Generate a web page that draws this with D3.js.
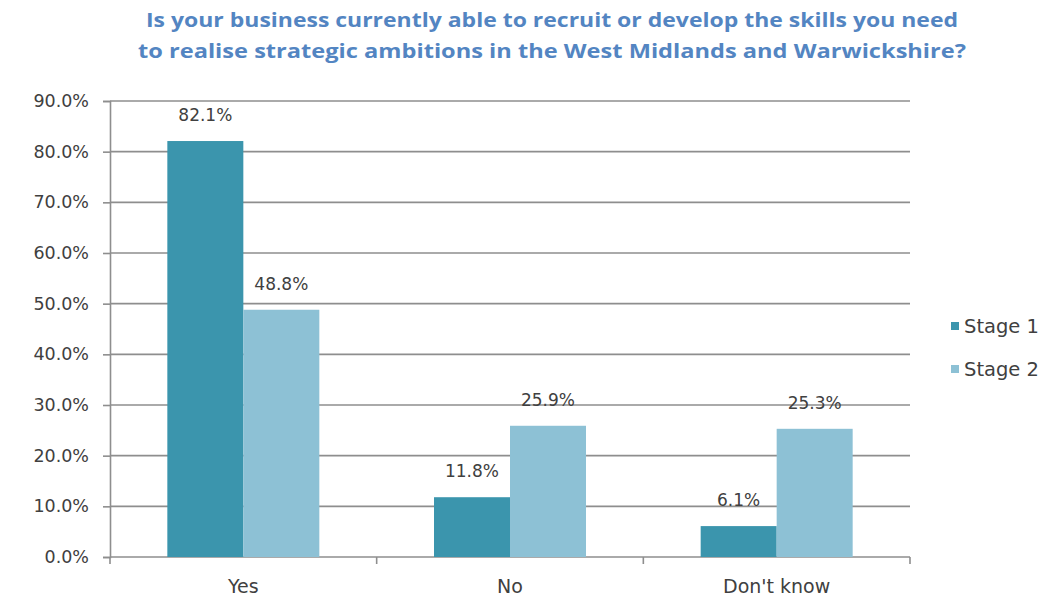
<!DOCTYPE html>
<html>
<head>
<meta charset="utf-8">
<script src="https://cdn.jsdelivr.net/npm/d3@7"></script>
<style>
  html, body { margin: 0; padding: 0; background: #fff; }
  svg { display: block; }
</style>
</head>
<body>
<svg id="chart" width="1046" height="600"></svg>
<script>
// Survey responses by stage
const categories = ["Yes", "No", "Don't know"];
const seriesNames = ["Stage 1", "Stage 2"];
const stage1 = [82.1, 11.8, 6.1];
const stage2 = [48.8, 25.9, 25.3];
const yTicks = [0, 10, 20, 30, 40, 50, 60, 70, 80, 90];
const titleLines = [
  "Is your business currently able to recruit or develop the skills you need",
  "to realise strategic ambitions in the West Midlands and Warwickshire?"
];

const colors = ["#3b95ad", "#8dc1d5"];
const seriesValues = [stage1, stage2];
const FONT = "DejaVu Sans, sans-serif";
const TEXT = "#404040";
const GRID = "#8e8e8e";

const svg = d3.select("#chart");
const margin = { left: 110, right: 136, top: 101, bottom: 43 };
const W = 1046, H = 600;
const plotW = W - margin.left - margin.right;
const plotH = H - margin.top - margin.bottom;

const g = svg.append("g").attr("transform", `translate(${margin.left},${margin.top})`);

const x0 = d3.scaleBand().domain(categories).range([0, plotW]).paddingInner(0.43).paddingOuter(0.215);
const x1 = d3.scaleBand().domain(seriesNames).range([0, x0.bandwidth()]);
const y = d3.scaleLinear().domain([0, 90]).range([plotH, 0]);

// Two-line title
const titleWidths = [812, 828];
svg.append("g").selectAll("text").data(titleLines).join("text")
  .attr("x", 552).attr("y", (d, i) => 27 + i * 31)
  .attr("text-anchor", "middle")
  .attr("font-family", "Open Sans, sans-serif")
  .attr("font-weight", "bold")
  .attr("font-size", 20)
  .attr("fill", "#5385c2")
  .attr("textLength", (d, i) => titleWidths[i])
  .attr("lengthAdjust", "spacingAndGlyphs")
  .text(d => d);

// Horizontal gridlines
g.append("g").selectAll("line").data(yTicks).join("line")
  .attr("x1", 0).attr("x2", plotW)
  .attr("y1", d => y(d)).attr("y2", d => y(d))
  .attr("stroke", GRID).attr("stroke-width", 1.6);

// Y axis
const yAxis = d3.axisLeft(y).tickValues(yTicks).tickSize(7).tickPadding(14)
  .tickFormat(d => d.toFixed(1) + "%");
const ya = g.append("g").call(yAxis);
ya.select(".domain").attr("stroke", GRID).attr("stroke-width", 1.6);
ya.selectAll(".tick line").attr("stroke", GRID).attr("stroke-width", 1.6);
ya.selectAll(".tick text")
  .attr("font-family", FONT).attr("font-size", 17.5).attr("fill", TEXT);

// X axis with boundary ticks between categories
const xa = g.append("g").attr("transform", `translate(0,${plotH})`)
  .call(d3.axisBottom(x0).tickSize(0).tickPadding(23));
xa.select(".domain").remove();
xa.selectAll(".tick text")
  .attr("font-family", FONT).attr("font-size", 19).attr("fill", TEXT);
g.append("g").selectAll("line").data(d3.range(categories.length + 1)).join("line")
  .attr("x1", i => i * plotW / categories.length).attr("x2", i => i * plotW / categories.length)
  .attr("y1", plotH).attr("y2", plotH + 7)
  .attr("stroke", GRID).attr("stroke-width", 1.6);

// Bars and value labels
const groups = g.append("g").selectAll("g").data(categories).join("g")
  .attr("transform", c => `translate(${x0(c)},0)`);
const cells = (c, ci) => seriesNames.map((s, si) => ({ s, v: seriesValues[si][ci], si }));

groups.selectAll("rect").data(cells).join("rect")
  .attr("x", d => x1(d.s)).attr("width", x1.bandwidth())
  .attr("y", d => y(d.v)).attr("height", d => y(0) - y(d.v))
  .attr("fill", d => colors[d.si]);

groups.selectAll("text.val").data(cells).join("text").attr("class", "val")
  .attr("x", d => x1(d.s) + x1.bandwidth() / 2)
  .attr("y", d => y(d.v) - 20)
  .attr("text-anchor", "middle")
  .attr("font-family", FONT).attr("font-size", 17).attr("fill", TEXT)
  .text(d => d.v.toFixed(1) + "%");

// Legend
const legend = svg.append("g").attr("transform", "translate(951,326)");
const li = legend.selectAll("g").data(seriesNames).join("g")
  .attr("transform", (d, i) => `translate(0,${i * 43})`);
li.append("rect").attr("x", 0).attr("y", -4).attr("width", 8).attr("height", 8)
  .attr("fill", (d, i) => colors[i]);
li.append("text").attr("x", 13).attr("y", 0).attr("dy", "0.35em")
  .attr("font-family", FONT).attr("font-size", 19.5).attr("fill", TEXT)
  .text(d => d);
</script>
</body>
</html>
